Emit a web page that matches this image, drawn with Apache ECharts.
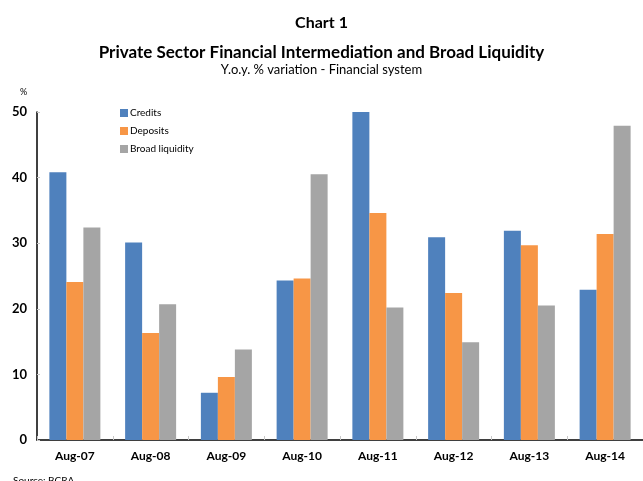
<!DOCTYPE html>
<html>
<head>
<meta charset="utf-8">
<script src="https://cdn.jsdelivr.net/npm/echarts@6/dist/echarts.min.js"></script>
<style>
  html, body { margin: 0; padding: 0; background: #fff; }
  #chart { width: 643px; height: 481px; }
</style>
</head>
<body>
<div id="chart"></div>
<script>
// categories and series (y.o.y. % variation)
var categories = ['Aug-07', 'Aug-08', 'Aug-09', 'Aug-10', 'Aug-11', 'Aug-12', 'Aug-13', 'Aug-14']
var credits = [40.8, 30.1, 7.2, 24.3, 50.2, 30.9, 31.9, 22.9]
var deposits = [24.1, 16.3, 9.6, 24.6, 34.6, 22.4, 29.7, 31.4]
var broadLiquidity = [32.4, 20.7, 13.8, 40.5, 20.2, 14.9, 20.5, 47.9]

var FONT = 'Lato, "Open Sans", sans-serif'

var chart = echarts.init(document.getElementById('chart'), null, { renderer: 'canvas' })

chart.setOption({
  animation: false,
  textStyle: { fontFamily: FONT },
  title: [
    {
      text: 'Chart 1',
      left: 'center',
      top: 10,
      textStyle: { fontSize: 16, fontWeight: 'bold', color: '#000', fontFamily: FONT }
    },
    {
      text: 'Private Sector Financial Intermediation and Broad Liquidity',
      subtext: 'Y.o.y. % variation - Financial system',
      left: 'center',
      top: 39,
      itemGap: 2,
      textStyle: { fontSize: 17, fontWeight: 'bold', color: '#000', fontFamily: FONT },
      subtextStyle: { fontSize: 13, color: '#000', fontFamily: FONT }
    },
    {
      text: '%',
      left: 15,
      top: 83,
      textStyle: { fontSize: 9, fontWeight: 'normal', color: '#000', fontFamily: FONT }
    },
    {
      text: 'Source: BCRA',
      left: 8,
      top: 471,
      textStyle: { fontSize: 10, fontWeight: 'normal', color: '#000', fontFamily: FONT }
    }
  ],
  legend: {
    orient: 'vertical',
    left: 115,
    top: 103,
    itemWidth: 8,
    itemHeight: 8,
    itemGap: 8,
    icon: 'rect',
    textStyle: { fontSize: 10, color: '#000', fontFamily: FONT, padding: [0, 0, 0, -3] },
    data: ['Credits', 'Deposits', 'Broad liquidity']
  },
  grid: { left: 37, right: -2, top: 112, bottom: 41, containLabel: false },
  xAxis: {
    type: 'category',
    data: categories,
    axisLine: { lineStyle: { color: '#000', width: 1.5 } },
    axisTick: { show: true, inside: true, length: 4, lineStyle: { color: '#c8c8c8' } },
    axisLabel: { color: '#000', fontWeight: 'bold', fontSize: 12, margin: 10, fontFamily: FONT }
  },
  yAxis: {
    type: 'value',
    min: 0,
    max: 50,
    interval: 10,
    axisLine: { show: true, lineStyle: { color: '#000', width: 1.5 } },
    axisTick: { show: true, inside: true, length: 3, lineStyle: { color: '#c8c8c8' } },
    splitLine: { show: false },
    axisLabel: { color: '#000', fontWeight: 'bold', fontSize: 13, margin: 10, fontFamily: FONT }
  },
  series: [
    {
      name: 'Credits',
      type: 'bar',
      data: credits,
      barWidth: 17,
      barGap: '0%',
      itemStyle: { color: '#4f81bd' }
    },
    {
      name: 'Deposits',
      type: 'bar',
      data: deposits,
      barWidth: 17,
      barGap: '0%',
      itemStyle: { color: '#f79646' }
    },
    {
      name: 'Broad liquidity',
      type: 'bar',
      data: broadLiquidity,
      barWidth: 17,
      barGap: '0%',
      itemStyle: { color: '#a5a5a5' }
    }
  ]
})
</script>
</body>
</html>
